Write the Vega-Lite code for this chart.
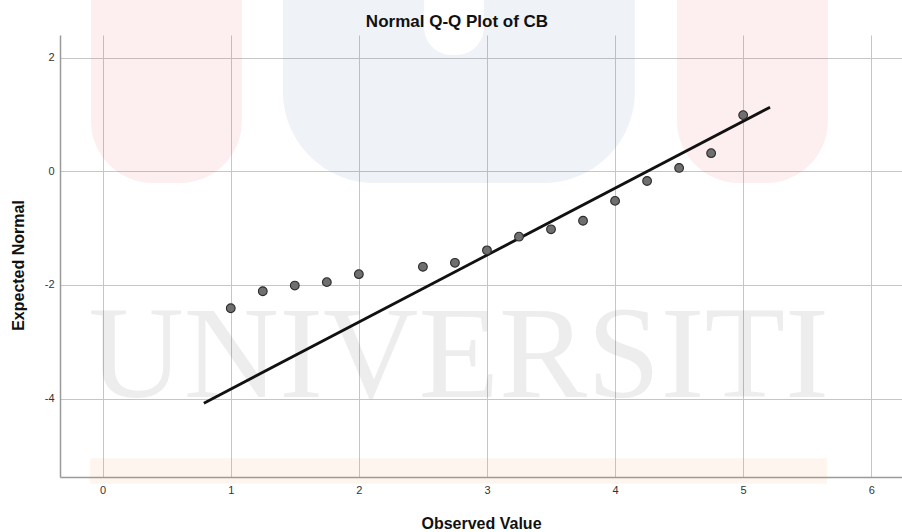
{
  "$schema": "https://vega.github.io/schema/vega-lite/v6.json",
  "width": 842,
  "height": 442,
  "autosize": {"type": "none"},
  "padding": {"left": 60, "top": 35, "right": 0, "bottom": 55},
  "background": "white",
  "config": {
    "view": {"stroke": null},
    "font": "Liberation Sans",
    "axis": {
      "grid": true,
      "gridColor": "#c6c6c6",
      "gridWidth": 1,
      "domainColor": "#9a9a9a",
      "domainWidth": 1.5,
      "ticks": false,
      "tickSize": 0,
      "labelFont": "Liberation Sans",
      "labelFontSize": 11,
      "labelColor": "#333333",
      "labelExpr": "'' + datum.value",
      "titleFont": "Liberation Sans",
      "titleFontSize": 16,
      "titleFontWeight": "bold",
      "titleColor": "#111111"
    }
  },
  "title": {
    "text": "Normal Q-Q Plot of CB",
    "font": "Liberation Sans",
    "fontSize": 17,
    "fontWeight": "bold",
    "color": "#111111",
    "baseline": "alphabetic",
    "offset": -44,
    "dx": -24
  },
  "datasets": {
    "points": [
      {"x": 1.0, "y": -2.41},
      {"x": 1.25, "y": -2.11},
      {"x": 1.5, "y": -2.01},
      {"x": 1.75, "y": -1.95},
      {"x": 2.0, "y": -1.81},
      {"x": 2.5, "y": -1.68},
      {"x": 2.75, "y": -1.61},
      {"x": 3.0, "y": -1.39},
      {"x": 3.25, "y": -1.15},
      {"x": 3.5, "y": -1.02},
      {"x": 3.75, "y": -0.87},
      {"x": 4.0, "y": -0.52},
      {"x": 4.25, "y": -0.17},
      {"x": 4.5, "y": 0.06},
      {"x": 4.75, "y": 0.32},
      {"x": 5.0, "y": 0.99}
    ],
    "fit": [
      {"x": 0.79, "y": -4.08},
      {"x": 5.21, "y": 1.13}
    ],
    "pink": [
      {"x": -0.091, "x2": 1.087, "y": 3.016, "y2": -0.206},
      {"x": 4.484, "x2": 5.662, "y": 3.016, "y2": -0.206}
    ],
    "blue": [
      {"x": 1.407, "x2": 4.155, "y": 3.016, "y2": -0.206}
    ],
    "notch": [
      {"x": 2.51, "x2": 2.976, "y": 3.016, "y2": 2.05}
    ],
    "band": [
      {"x": -0.098, "x2": 5.654, "y": -5.05, "y2": -5.5}
    ],
    "word": [
      {"label": "UNIVERSITI", "x": 2.78, "y": -3.97}
    ]
  },
  "encoding": {
    "x": {
      "field": "x",
      "type": "quantitative",
      "scale": {"domain": [-0.333, 6.24], "nice": false, "zero": false},
      "axis": {
        "title": "Observed Value",
        "values": [0, 1, 2, 3, 4, 5, 6],
        "labelPadding": 7,
        "titleBaseline": "alphabetic",
        "titleY": 51
      }
    },
    "y": {
      "field": "y",
      "type": "quantitative",
      "scale": {"domain": [-5.38, 2.4], "nice": false, "zero": false},
      "axis": {
        "title": "Expected Normal",
        "values": [-4, -2, 0, 2],
        "labelPadding": 6,
        "titleBaseline": "alphabetic",
        "titleX": -37,
        "titleY": 230
      }
    }
  },
  "layer": [
    {
      "data": {"name": "pink"},
      "mark": {"type": "rect", "color": "#e8505b", "opacity": 0.09, "cornerRadiusBottomLeft": 62, "cornerRadiusBottomRight": 62},
      "encoding": {"x2": {"field": "x2"}, "y2": {"field": "y2"}}
    },
    {
      "data": {"name": "blue"},
      "mark": {"type": "rect", "color": "#4a7fb5", "opacity": 0.09, "cornerRadiusBottomLeft": 115, "cornerRadiusBottomRight": 115},
      "encoding": {"x2": {"field": "x2"}, "y2": {"field": "y2"}}
    },
    {
      "data": {"name": "notch"},
      "mark": {"type": "rect", "color": "#ffffff", "opacity": 1, "cornerRadiusBottomLeft": 28, "cornerRadiusBottomRight": 28},
      "encoding": {"x2": {"field": "x2"}, "y2": {"field": "y2"}}
    },
    {
      "data": {"name": "band"},
      "mark": {"type": "rect", "color": "#f7a040", "opacity": 0.09},
      "encoding": {"x2": {"field": "x2"}, "y2": {"field": "y2"}}
    },
    {
      "data": {"name": "word"},
      "mark": {"type": "text", "font": "Liberation Serif", "fontSize": 132, "color": "#000000", "opacity": 0.065, "align": "center", "baseline": "alphabetic"},
      "encoding": {"text": {"field": "label"}}
    },
    {
      "data": {"name": "fit"},
      "mark": {"type": "line", "color": "#111111", "strokeWidth": 2.8}
    },
    {
      "data": {"name": "points"},
      "mark": {"type": "circle", "size": 76, "fill": "#6f6f6f", "stroke": "#2b2b2b", "strokeWidth": 1.1, "opacity": 1}
    }
  ]
}
